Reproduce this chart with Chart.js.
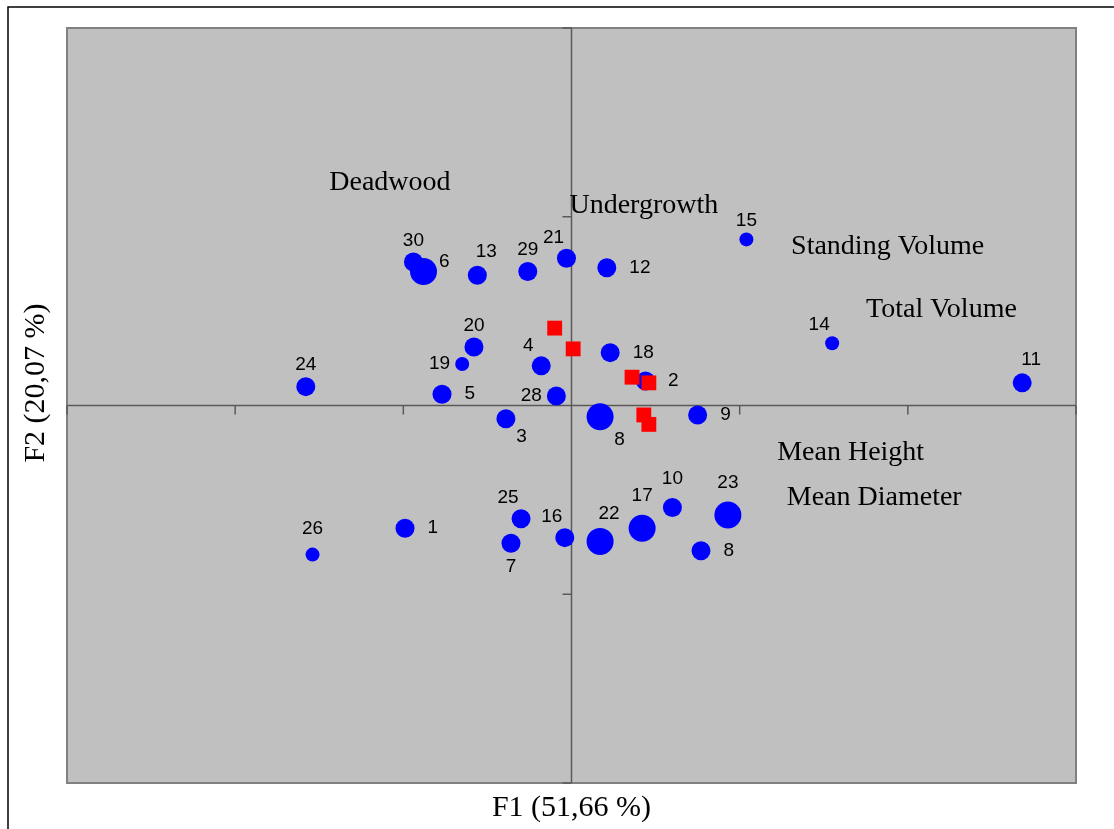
<!DOCTYPE html>
<html>
<head>
<meta charset="utf-8">
<title>F1 / F2 biplot</title>
<script src="https://cdn.jsdelivr.net/npm/chart.js@4.4.0/dist/chart.umd.min.js"></script>
<style>
  html, body { margin: 0; padding: 0; background: #fff; }
  #wrap { position: relative; width: 1114px; height: 829px; }
</style>
</head>
<body>
<div id="wrap"><canvas id="myChart"></canvas></div>
<script>
// sites (blue circles) - F1 / F2 scores
var siteIds  = ['30', '6', '13', '29', '21', '12', '15', '20', '19', '4', '18', '2', '5', '28', '24', '14', '11',
                '3', '8', '9', '26', '1', '25', '7', '16', '22', '17', '10', '23', '8'];
var siteF1   = [-0.94, -0.88, -0.56, -0.26, -0.03, 0.21, 1.04, -0.58, -0.65, -0.18, 0.23, 0.44, -0.77, -0.09, -1.58, 1.55, 2.68,
                -0.39, 0.17, 0.75, -1.54, -0.99, -0.30, -0.36, -0.04, 0.17, 0.42, 0.60, 0.93, 0.77];
var siteF2   = [0.76, 0.71, 0.69, 0.71, 0.78, 0.73, 0.88, 0.31, 0.22, 0.21, 0.28, 0.13, 0.06, 0.05, 0.10, 0.33, 0.12,
                -0.07, -0.06, -0.05, -0.79, -0.65, -0.60, -0.73, -0.70, -0.72, -0.65, -0.54, -0.58, -0.77];
// weight class of each site (1 small, 2 medium, 3 large)
var siteWeight = [2, 3, 2, 2, 2, 2, 1, 2, 1, 2, 2, 2, 2, 2, 2, 1, 2,
                  2, 3, 2, 1, 2, 2, 2, 2, 3, 3, 2, 3, 2];
// where the number sits round its circle
var siteLabelSide = ['n', 'ene', 'ne', 'n', 'nw', 'e', 'n', 'n', 'w', 'nw', 'e', 'e', 'e', 'w', 'n', 'nw', 'ne',
                     'se', 'se', 'e', 'N', 'e', 'nw', 's', 'nw', 'ne', 'N', 'N', 'N', 'e'];

// variables (red squares)
var varF1 = [-0.10, 0.01, 0.36, 0.46, 0.43, 0.46];
var varF2 = [0.41, 0.30, 0.15, 0.12, -0.05, -0.10];

// variable names and where their text is centred (F1 / F2 units)
var varNames  = ['Deadwood', 'Undergrowth', 'Standing Volume', 'Total Volume', 'Mean Height', 'Mean Diameter'];
var varTextF1 = [-1.08, 0.43, 1.88, 2.20, 1.66, 1.80];
var varTextF2 = [1.18, 1.06, 0.84, 0.51, -0.25, -0.49];

var xTicks = [-3, -2, -1, 0, 1, 2, 3];
var yTicks = [-2, -1, 0, 1, 2];

var SERIF = '"Liberation Serif", "Times New Roman", serif';
var SANS = '"Liberation Sans", Arial, sans-serif';
var radiusFor = {1: 7, 2: 9.5, 3: 13.5};

var sitePoints = siteF1.map(function (x, i) { return {x: x, y: siteF2[i]}; });
var varPoints = varF1.map(function (x, i) { return {x: x, y: varF2[i]}; });

var biplotPlugin = {
    id: 'biplot',
    beforeDraw: function (chart) {
        var ctx = chart.ctx, a = chart.chartArea;
        ctx.save();
        // outer frame (top and left only are inside the picture)
        ctx.strokeStyle = '#000';
        ctx.lineWidth = 1.5;
        ctx.beginPath();
        ctx.moveTo(8, chart.height);
        ctx.lineTo(8, 7);
        ctx.lineTo(chart.width, 7);
        ctx.stroke();
        // plot area
        ctx.fillStyle = '#c0c0c0';
        ctx.fillRect(a.left, a.top, a.right - a.left, a.bottom - a.top);
        ctx.strokeStyle = '#808080';
        ctx.lineWidth = 2;
        ctx.strokeRect(a.left, a.top, a.right - a.left, a.bottom - a.top);
        ctx.restore();
    },
    beforeDatasetsDraw: function (chart) {
        var ctx = chart.ctx, a = chart.chartArea;
        var xs = chart.scales.x, ys = chart.scales.y;
        var x0 = xs.getPixelForValue(0), y0 = ys.getPixelForValue(0);
        ctx.save();
        ctx.strokeStyle = '#5a5a5a';
        ctx.lineWidth = 1.5;
        ctx.beginPath();
        ctx.moveTo(a.left, y0); ctx.lineTo(a.right, y0);
        ctx.moveTo(x0, a.top); ctx.lineTo(x0, a.bottom);
        xTicks.forEach(function (t) {
            var px = xs.getPixelForValue(t);
            ctx.moveTo(px, y0); ctx.lineTo(px, y0 + 9);
        });
        yTicks.forEach(function (t) {
            var py = ys.getPixelForValue(t);
            ctx.moveTo(x0 - 9, py); ctx.lineTo(x0, py);
        });
        ctx.stroke();

        // variable names
        ctx.fillStyle = '#000';
        ctx.font = '28px ' + SERIF;
        ctx.textAlign = 'center';
        ctx.textBaseline = 'middle';
        varNames.forEach(function (n, i) {
            ctx.fillText(n, xs.getPixelForValue(varTextF1[i]), ys.getPixelForValue(varTextF2[i]));
        });

        // axis titles
        ctx.font = '30px ' + SERIF;
        ctx.fillText('F1 (51,66 %)', (a.left + a.right) / 2, 808);
        ctx.translate(36, 383);
        ctx.rotate(-Math.PI / 2);
        ctx.fillText('F2 (20,07 %)', 0, 0);
        ctx.restore();
    },
    afterDatasetsDraw: function (chart) {
        var ctx = chart.ctx;
        var meta = chart.getDatasetMeta(1);
        ctx.save();
        ctx.fillStyle = '#000';
        ctx.font = '19px ' + SANS;
        ctx.textBaseline = 'middle';
        meta.data.forEach(function (pt, i) {
            var r = radiusFor[siteWeight[i]];
            var side = siteLabelSide[i];
            var tx = pt.x, ty = pt.y;
            ctx.textAlign = 'center';
            if (side === 'n') { ty = pt.y - r - 12; }
            else if (side === 'N') { ty = pt.y - r - 19; }
            else if (side === 's') { ty = pt.y + r + 14; }
            else if (side === 'e') { ctx.textAlign = 'left'; tx = pt.x + r + 13; }
            else if (side === 'ene') { ctx.textAlign = 'left'; tx = pt.x + r + 2; ty = pt.y - 10; }
            else if (side === 'w') { ctx.textAlign = 'right'; tx = pt.x - r - 5; }
            else if (side === 'ne') { tx = pt.x + 9; ty = pt.y - r - 14; }
            else if (side === 'nw') { tx = pt.x - 13; ty = pt.y - r - 11; }
            else if (side === 'se') { tx = pt.x + r + 6; ty = pt.y + r + 9; }
            ctx.fillText(siteIds[i], tx, ty);
        });
        ctx.restore();
    }
};

var ctx = document.getElementById('myChart');

new Chart(ctx, {
    type: 'scatter',
    data: {
        datasets: [{
            label: 'Variables',
            data: varPoints,
            pointStyle: 'rect',
            pointRadius: 10.5,
            pointBackgroundColor: '#ff0000',
            pointBorderWidth: 0,
            borderWidth: 0
        }, {
            label: 'Sites',
            data: sitePoints,
            pointStyle: 'circle',
            pointRadius: siteWeight.map(function (w) { return radiusFor[w]; }),
            pointBackgroundColor: '#0000ff',
            pointBorderWidth: 0,
            borderWidth: 0
        }]
    },
    options: {
        responsive: true,
        maintainAspectRatio: false,
        animation: false,
        layout: {
            padding: {left: 67, top: 28, right: 38, bottom: 46}
        },
        plugins: {
            legend: {display: false},
            tooltip: {enabled: false}
        },
        scales: {
            x: {display: false, min: -3, max: 3},
            y: {display: false, min: -2, max: 2}
        }
    },
    plugins: [biplotPlugin]
});
</script>
</body>
</html>
